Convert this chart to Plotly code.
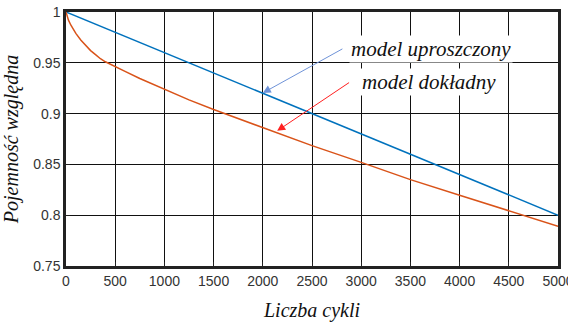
import plotly.graph_objects as go

cycles_blue = [0, 5000]
cap_blue = [1.0, 0.8]

cycles_red = [0, 10, 25, 50, 75, 100, 150, 200, 250, 300, 350, 400, 500, 600, 750, 1000,
              1250, 1500, 2000, 2500, 3000, 3500, 4000, 4500, 5000]
cap_red = [1.0, 0.9965, 0.992, 0.987, 0.983, 0.979, 0.9725, 0.967, 0.962, 0.958, 0.954,
           0.951, 0.946, 0.9415, 0.9345, 0.924, 0.9135, 0.904, 0.886, 0.8685, 0.852,
           0.835, 0.8197, 0.8045, 0.789]

x_ticks = [0, 500, 1000, 1500, 2000, 2500, 3000, 3500, 4000, 4500, 5000]
y_ticks = [0.75, 0.8, 0.85, 0.9, 0.95, 1.0]
y_tick_labels = ["0.75", "0.8", "0.85", "0.9", "0.95", "1"]

label_blue = "model uproszczony"
label_red = "model dokładny"

fig = go.Figure()
fig.add_trace(go.Scatter(x=cycles_blue, y=cap_blue, mode="lines",
                         line=dict(color="#0072BD", width=1.5), showlegend=False))
fig.add_trace(go.Scatter(x=cycles_red, y=cap_red, mode="lines",
                         line=dict(color="#D95319", width=1.5), showlegend=False))

serif = "Liberation Serif, Times New Roman, serif"

# arrows
fig.add_annotation(x=2000, y=0.9203, ax=2824, ay=0.9645, axref="x", ayref="y",
                   xref="x", yref="y", showarrow=True, arrowhead=2, arrowsize=1.6,
                   arrowwidth=1, arrowcolor="#6F93D8", text="")
fig.add_annotation(x=2146, y=0.883, ax=2892, ay=0.9315, axref="x", ayref="y",
                   xref="x", yref="y", showarrow=True, arrowhead=2, arrowsize=1.6,
                   arrowwidth=1, arrowcolor="#FF2020", text="")
# labels
fig.add_annotation(x=3707, y=0.9638, xref="x", yref="y", text="<i>" + label_blue + "</i>",
                   showarrow=False, bgcolor="white", borderpad=1,
                   font=dict(family=serif, size=21, color="#111111"),
                   xanchor="center", yanchor="middle")
fig.add_annotation(x=3690, y=0.9315, xref="x", yref="y", text="<i>" + label_red + "</i>",
                   showarrow=False, bgcolor="white", borderpad=1,
                   font=dict(family=serif, size=21, color="#111111"),
                   xanchor="center", yanchor="middle")

axis_common = dict(showline=True, linecolor="#222222", linewidth=2.5, mirror=True,
                   showgrid=True, gridcolor="#111111", gridwidth=1,
                   ticks="inside", ticklen=4, tickcolor="#222222",
                   tickfont=dict(family="Liberation Sans, Arial, sans-serif", size=14,
                                 color="#333333"),
                   zeroline=False, automargin=False, ticklabeloverflow="allow")

fig.update_xaxes(range=[0, 5000], tickvals=x_ticks, ticktext=[str(v) for v in x_ticks],
                 title=dict(text="<i>Liczba cykli</i>", standoff=16,
                            font=dict(family=serif, size=20, color="#111111")),
                 **axis_common)
fig.update_yaxes(range=[0.75, 1.0], tickvals=y_ticks, ticktext=y_tick_labels,
                 title=dict(text="<i>Pojemność względna</i>", standoff=15,
                            font=dict(family=serif, size=20, color="#111111")),
                 **axis_common)

fig.update_layout(width=568, height=323, margin=dict(l=66, r=10, t=12, b=57),
                  paper_bgcolor="white", plot_bgcolor="white")

fig.write_html("out.html", config={"displayModeBar": False},
               post_script="document.body.style.margin='0';document.body.style.overflow='hidden';")
